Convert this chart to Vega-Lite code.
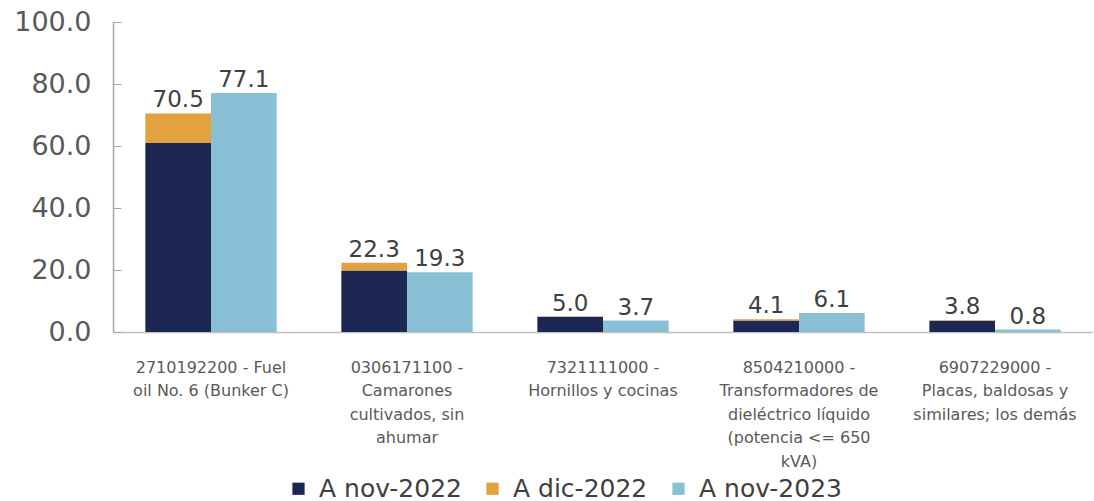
{
  "$schema": "https://vega.github.io/schema/vega-lite/v6.json",
  "width": 980,
  "height": 310,
  "padding": {"left": 13, "top": 8, "right": 0, "bottom": 0},
  "background": "white",
  "config": {"view": {"stroke": null}, "font": "DejaVu Sans"},
  "data": {
    "values": [
      {"cat": "2710192200 - Fuel\noil No. 6 (Bunker C)", "serie": "A nov-2022", "grupo": "2022", "valor": 61.0},
      {"cat": "2710192200 - Fuel\noil No. 6 (Bunker C)", "serie": "A dic-2022", "grupo": "2022", "valor": 9.5},
      {"cat": "2710192200 - Fuel\noil No. 6 (Bunker C)", "serie": "A nov-2023", "grupo": "2023", "valor": 77.1},
      {"cat": "0306171100 -\nCamarones\ncultivados, sin\nahumar", "serie": "A nov-2022", "grupo": "2022", "valor": 19.8},
      {"cat": "0306171100 -\nCamarones\ncultivados, sin\nahumar", "serie": "A dic-2022", "grupo": "2022", "valor": 2.5},
      {"cat": "0306171100 -\nCamarones\ncultivados, sin\nahumar", "serie": "A nov-2023", "grupo": "2023", "valor": 19.3},
      {"cat": "7321111000 -\nHornillos y cocinas", "serie": "A nov-2022", "grupo": "2022", "valor": 4.9},
      {"cat": "7321111000 -\nHornillos y cocinas", "serie": "A dic-2022", "grupo": "2022", "valor": 0.1},
      {"cat": "7321111000 -\nHornillos y cocinas", "serie": "A nov-2023", "grupo": "2023", "valor": 3.7},
      {"cat": "8504210000 -\nTransformadores de\ndieléctrico líquido\n(potencia <= 650\nkVA)", "serie": "A nov-2022", "grupo": "2022", "valor": 3.7},
      {"cat": "8504210000 -\nTransformadores de\ndieléctrico líquido\n(potencia <= 650\nkVA)", "serie": "A dic-2022", "grupo": "2022", "valor": 0.4},
      {"cat": "8504210000 -\nTransformadores de\ndieléctrico líquido\n(potencia <= 650\nkVA)", "serie": "A nov-2023", "grupo": "2023", "valor": 6.1},
      {"cat": "6907229000 -\nPlacas, baldosas y\nsimilares; los demás", "serie": "A nov-2022", "grupo": "2022", "valor": 3.6},
      {"cat": "6907229000 -\nPlacas, baldosas y\nsimilares; los demás", "serie": "A dic-2022", "grupo": "2022", "valor": 0.2},
      {"cat": "6907229000 -\nPlacas, baldosas y\nsimilares; los demás", "serie": "A nov-2023", "grupo": "2023", "valor": 0.8}
    ]
  },
  "encoding": {
    "x": {
      "field": "cat", "type": "nominal", "sort": null, "title": null,
      "scale": {"paddingInner": 0.33, "paddingOuter": 0.165},
      "axis": {
        "labelAngle": 0, "labelExpr": "split(datum.label, '\\n')",
        "labelFont": "DejaVu Sans", "labelFontSize": 16, "labelLineHeight": 23.5,
        "labelColor": "#595959", "labelPadding": 27, "ticks": false,
        "domainColor": "#bfbfbf", "domainWidth": 1.5, "labelBaseline": "top"
      }
    },
    "xOffset": {"field": "grupo", "type": "nominal", "scale": {"paddingInner": 0, "paddingOuter": 0}}
  },
  "layer": [
    {
      "mark": {"type": "bar"},
      "encoding": {
        "y": {
          "field": "valor", "type": "quantitative", "stack": "zero", "title": null,
          "scale": {"domain": [0, 100]},
          "axis": {
            "values": [0, 20, 40, 60, 80, 100], "format": ".1f", "grid": false,
            "labelFont": "DejaVu Sans", "labelFontSize": 27, "labelColor": "#595959",
            "tickColor": "#a6a6a6", "tickSize": -8, "labelPadding": 30,
            "domainColor": "#a6a6a6", "domainWidth": 1.5
          }
        },
        "color": {
          "field": "serie", "type": "nominal",
          "scale": {"domain": ["A nov-2022", "A dic-2022", "A nov-2023"], "range": ["#1c2853", "#e3a13f", "#89c0d5"]},
          "legend": {
            "title": null, "orient": "none", "direction": "horizontal", "legendX": 173, "legendY": 454,
            "symbolType": "square", "symbolSize": 150, "symbolStrokeWidth": 0,
            "labelFont": "DejaVu Sans", "labelFontSize": 25, "labelColor": "#404040",
            "columnPadding": 18, "labelOffset": 8
          }
        },
        "order": {"field": "serie", "sort": "descending"}
      }
    },
    {
      "transform": [{"aggregate": [{"op": "sum", "field": "valor", "as": "total"}], "groupby": ["cat", "grupo"]}],
      "mark": {"type": "text", "baseline": "bottom", "dy": -1, "fontSize": 23, "font": "DejaVu Sans", "color": "#404040"},
      "encoding": {
        "y": {"field": "total", "type": "quantitative"},
        "text": {"field": "total", "type": "quantitative", "format": ".1f"}
      }
    }
  ]
}
